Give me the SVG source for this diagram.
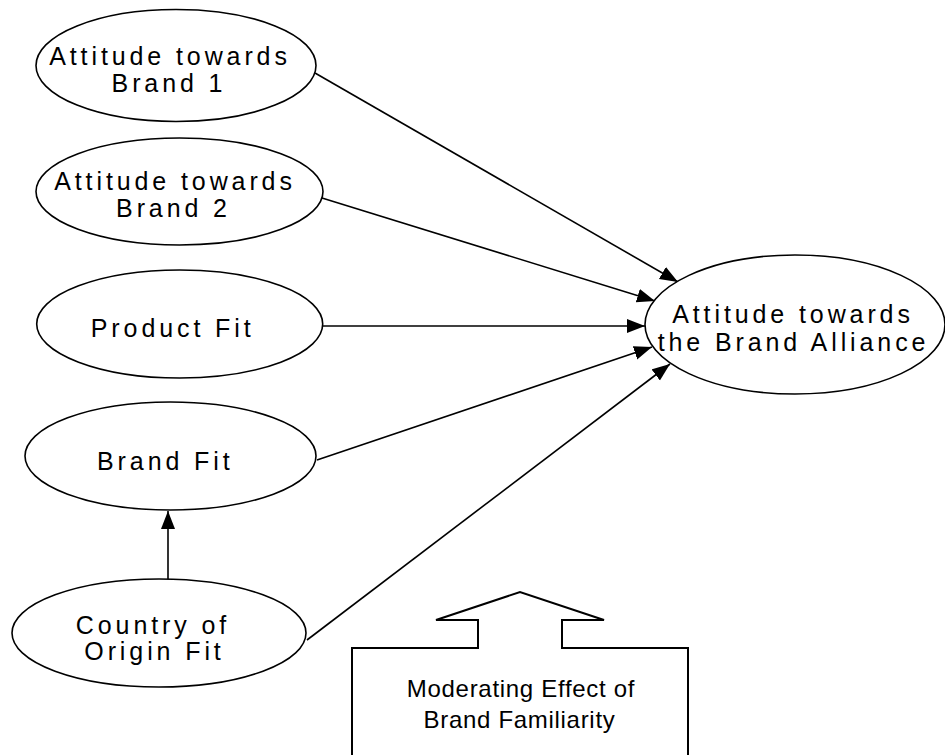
<svg xmlns="http://www.w3.org/2000/svg" width="945" height="755" viewBox="0 0 945 755">
<style>
.node ellipse{fill:#fff;stroke:#000;stroke-width:1.6}
.lbl{font-family:"Liberation Sans",Arial,sans-serif;font-size:25px;letter-spacing:3.9px;text-anchor:middle;fill:#000}
.mod{font-family:"Liberation Sans",Arial,sans-serif;font-size:24px;letter-spacing:0.7px;text-anchor:middle;fill:#000}
#connectors line{stroke:#000;stroke-width:1.6;marker-end:url(#ah)}
</style>
<defs>
<marker id="ah" markerUnits="userSpaceOnUse" markerWidth="20" markerHeight="16" refX="18" refY="7" orient="auto">
<path d="M0,0 L18,7 L0,14 z" fill="#000"/>
</marker>
</defs>
<rect width="945" height="755" fill="#fff"/>
<g id="connectors">
<line x1="315" y1="73" x2="678" y2="282"/>
<line x1="322" y1="198" x2="655" y2="301"/>
<line x1="322" y1="326" x2="645" y2="326"/>
<line x1="317" y1="460" x2="652" y2="347"/>
<line x1="307" y1="640" x2="670" y2="364"/>
<line x1="168" y1="580" x2="168" y2="511"/>
</g>
<g id="n1" class="node">
<ellipse cx="176" cy="65.5" rx="140" ry="56"/>
<text class="lbl" x="170" y="65">Attitude towards</text>
<text class="lbl" x="169" y="92">Brand 1</text>
</g>
<g id="n2" class="node">
<ellipse cx="179.5" cy="191.5" rx="143.5" ry="53.5"/>
<text class="lbl" x="175" y="190">Attitude towards</text>
<text class="lbl" x="173.5" y="217">Brand 2</text>
</g>
<g id="n3" class="node">
<ellipse cx="179.7" cy="324" rx="143" ry="54"/>
<text class="lbl" x="172.7" y="337">Product Fit</text>
</g>
<g id="n4" class="node">
<ellipse cx="170.5" cy="456" rx="145.5" ry="54"/>
<text class="lbl" x="165.3" y="470">Brand Fit</text>
</g>
<g id="n5" class="node">
<ellipse cx="159" cy="633" rx="147" ry="54"/>
<text class="lbl" x="153" y="634">Country of</text>
<text class="lbl" x="154.5" y="660">Origin Fit</text>
</g>
<g id="n6" class="node">
<ellipse cx="795" cy="324.5" rx="150" ry="69.5"/>
<text class="lbl" x="793" y="323">Attitude towards</text>
<text class="lbl" x="793.5" y="351">the Brand Alliance</text>
</g>
<g id="moderator">
<path d="M352,760 L352,648 L478,648 L478,620 L436,620 L520,592 L604,620 L562,620 L562,648 L688,648 L688,760" fill="none" stroke="#000" stroke-width="2"/>
<text class="mod" x="521" y="697">Moderating Effect of</text>
<text class="mod" x="519.5" y="728">Brand Familiarity</text>
</g>
</svg>
